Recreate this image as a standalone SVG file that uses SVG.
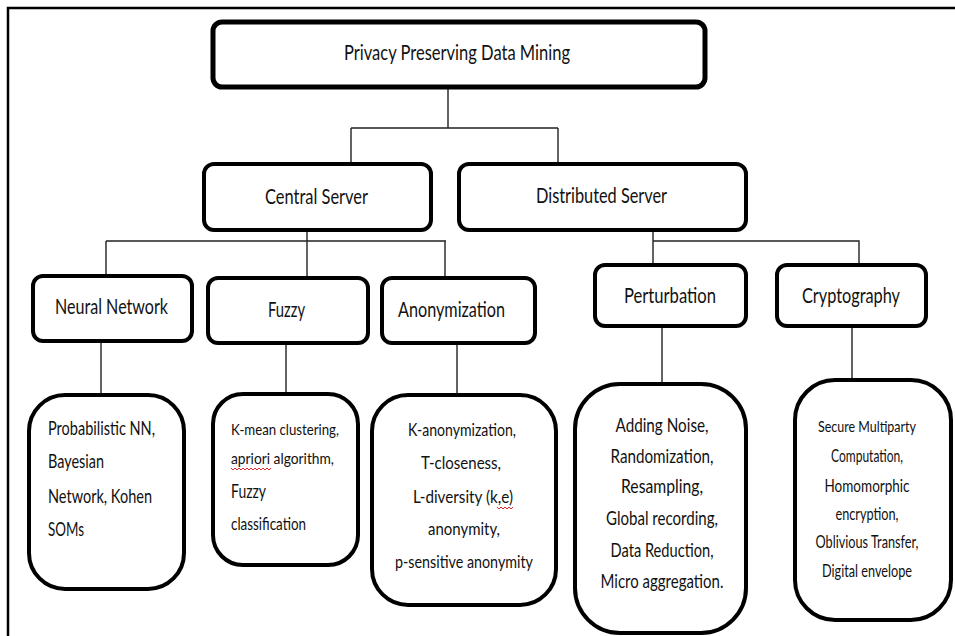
<svg xmlns="http://www.w3.org/2000/svg" width="955" height="636" viewBox="0 0 955 636">
  <style>
    .frame { fill: none; stroke: #000; stroke-width: 2.5; }
    .box { fill: #fff; stroke: #000; stroke-width: 4; }
    .root { fill: #fff; stroke: #000; stroke-width: 5; }
    .wire { fill: none; stroke: #222; stroke-width: 1.4; }
    .lbl { font-family: Lato, "Liberation Sans", sans-serif; fill: #111; }
    .c { text-anchor: middle; }
    .s { text-anchor: start; }
    .squiggle { fill: none; stroke: #e0282e; stroke-width: 1; }
  </style>

  <rect width="955" height="636" fill="#fff"/>

  <!-- page frame: top and left rules -->
  <path class="frame" d="M8 638 V8 H957"/>

  <!-- connectors -->
  <g id="connectors">
    <path class="wire" d="M448 89 V128 M351 128 H558 M351 128 V162 M558 128 V162"/>
    <path class="wire" d="M307 232 V276 M106 241 H446 M106 241 V274 M445 241 V276"/>
    <path class="wire" d="M653 232 V263 M653 241 H859 V263"/>
    <path class="wire" d="M101 343 V393 M286 345 V392 M457 345 V393 M662 328 V382 M852 328 V378"/>
  </g>

  <g id="root">
    <rect class="root" x="213" y="22" width="492" height="65" rx="9"/>
    <text class="lbl c" x="457" y="60" font-size="21" textLength="226" lengthAdjust="spacingAndGlyphs">Privacy Preserving Data Mining</text>
  </g>

  <g id="central-server">
    <rect class="box" x="204" y="164" width="227" height="66" rx="10"/>
    <text class="lbl c" x="316.5" y="204" font-size="21" textLength="103" lengthAdjust="spacingAndGlyphs">Central Server</text>
  </g>

  <g id="distributed-server">
    <rect class="box" x="459" y="164" width="287" height="66" rx="10"/>
    <text class="lbl c" x="601.5" y="203" font-size="21" textLength="131" lengthAdjust="spacingAndGlyphs">Distributed Server</text>
  </g>

  <g id="neural-network">
    <rect class="box" x="33" y="276" width="159" height="65" rx="10"/>
    <text class="lbl c" x="111.5" y="314" font-size="21" textLength="113" lengthAdjust="spacingAndGlyphs">Neural Network</text>
  </g>

  <g id="fuzzy">
    <rect class="box" x="208" y="278" width="160" height="65" rx="10"/>
    <text class="lbl c" x="286.5" y="317" font-size="21" textLength="37" lengthAdjust="spacingAndGlyphs">Fuzzy</text>
  </g>

  <g id="anonymization">
    <rect class="box" x="382" y="278" width="153" height="65" rx="10"/>
    <text class="lbl c" x="451.5" y="317" font-size="21" textLength="107" lengthAdjust="spacingAndGlyphs">Anonymization</text>
  </g>

  <g id="perturbation">
    <rect class="box" x="595" y="265" width="151" height="61" rx="10"/>
    <text class="lbl c" x="670" y="303" font-size="21" textLength="92" lengthAdjust="spacingAndGlyphs">Perturbation</text>
  </g>

  <g id="cryptography">
    <rect class="box" x="777" y="265" width="149" height="61" rx="10"/>
    <text class="lbl c" x="851" y="303" font-size="21" textLength="98" lengthAdjust="spacingAndGlyphs">Cryptography</text>
  </g>

  <g id="neural-methods">
    <rect class="box" x="29" y="395" width="155" height="194" rx="36"/>
    <text class="lbl s" x="48" y="435" font-size="20" textLength="107" lengthAdjust="spacingAndGlyphs">Probabilistic NN,</text>
    <text class="lbl s" x="48" y="468" font-size="20" textLength="56" lengthAdjust="spacingAndGlyphs">Bayesian</text>
    <text class="lbl s" x="48" y="503" font-size="20" textLength="104" lengthAdjust="spacingAndGlyphs">Network, Kohen</text>
    <text class="lbl s" x="48" y="536" font-size="20" textLength="36" lengthAdjust="spacingAndGlyphs">SOMs</text>
  </g>

  <g id="fuzzy-methods">
    <rect class="box" x="213" y="394" width="145" height="171" rx="30"/>
    <text class="lbl s" x="231" y="435" font-size="16" textLength="108" lengthAdjust="spacingAndGlyphs">K-mean clustering,</text>
    <text class="lbl s" x="231" y="464" font-size="16" textLength="103" lengthAdjust="spacingAndGlyphs">apriori algorithm,</text>
    <path class="squiggle" d="M231 468 l2 2 l2 -2 l2 2 l2 -2 l2 2 l2 -2 l2 2 l2 -2 l2 2 l2 -2 l2 2 l2 -2 l2 2 l2 -2 l2 2 l2 -2 l2 2 l2 -2 l2 2 l2 -2"/>
    <text class="lbl s" x="231" y="498" font-size="19" textLength="35" lengthAdjust="spacingAndGlyphs">Fuzzy</text>
    <text class="lbl s" x="231" y="530" font-size="17" textLength="75" lengthAdjust="spacingAndGlyphs">classification</text>
  </g>

  <g id="anonymization-methods">
    <rect class="box" x="372" y="395" width="184" height="210" rx="36"/>
    <text class="lbl c" x="462" y="436" font-size="18" textLength="108" lengthAdjust="spacingAndGlyphs">K-anonymization,</text>
    <text class="lbl c" x="461" y="469" font-size="18" textLength="80" lengthAdjust="spacingAndGlyphs">T-closeness,</text>
    <text class="lbl c" x="463" y="503" font-size="18" textLength="100" lengthAdjust="spacingAndGlyphs">L-diversity (k,e)</text>
    <path class="squiggle" d="M497 507 l2 2 l2 -2 l2 2 l2 -2 l2 2 l2 -2 l2 2 l2 -2"/>
    <text class="lbl c" x="464" y="535" font-size="18" textLength="72" lengthAdjust="spacingAndGlyphs">anonymity,</text>
    <text class="lbl c" x="464" y="568" font-size="18" textLength="138" lengthAdjust="spacingAndGlyphs">p-sensitive anonymity</text>
  </g>

  <g id="perturbation-methods">
    <rect class="box" x="575" y="384" width="171" height="249" rx="45"/>
    <text class="lbl c" x="662" y="432" font-size="19" textLength="93" lengthAdjust="spacingAndGlyphs">Adding Noise,</text>
    <text class="lbl c" x="662" y="463" font-size="19" textLength="103" lengthAdjust="spacingAndGlyphs">Randomization,</text>
    <text class="lbl c" x="662" y="493" font-size="19" textLength="82" lengthAdjust="spacingAndGlyphs">Resampling,</text>
    <text class="lbl c" x="662" y="525" font-size="19" textLength="112" lengthAdjust="spacingAndGlyphs">Global recording,</text>
    <text class="lbl c" x="662" y="557" font-size="19" textLength="103" lengthAdjust="spacingAndGlyphs">Data Reduction,</text>
    <text class="lbl c" x="662" y="588" font-size="19" textLength="123" lengthAdjust="spacingAndGlyphs">Micro aggregation.</text>
  </g>

  <g id="cryptography-methods">
    <rect class="box" x="795" y="380" width="156" height="240" rx="40"/>
    <text class="lbl c" x="867" y="432" font-size="16" textLength="98" lengthAdjust="spacingAndGlyphs">Secure Multiparty</text>
    <text class="lbl c" x="867" y="462" font-size="17" textLength="72" lengthAdjust="spacingAndGlyphs">Computation,</text>
    <text class="lbl c" x="867" y="492" font-size="17" textLength="85" lengthAdjust="spacingAndGlyphs">Homomorphic</text>
    <text class="lbl c" x="867" y="520" font-size="17" textLength="63" lengthAdjust="spacingAndGlyphs">encryption,</text>
    <text class="lbl c" x="867" y="548" font-size="17" textLength="103" lengthAdjust="spacingAndGlyphs">Oblivious Transfer,</text>
    <text class="lbl c" x="867" y="577" font-size="17" textLength="90" lengthAdjust="spacingAndGlyphs">Digital envelope</text>
  </g>
</svg>
